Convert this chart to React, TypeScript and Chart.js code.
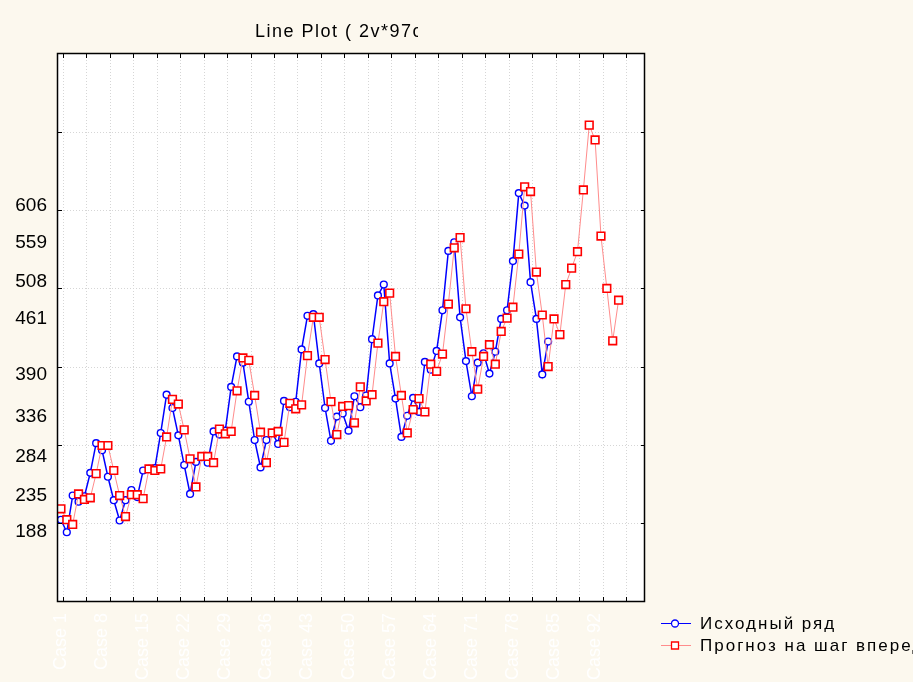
import { useEffect, useRef } from "react";
import { Chart, registerables } from "chart.js";

Chart.register(...registerables);

const TITLE = "Line Plot ( 2v*97c";
const SERIES_NAMES = ["Исходный ряд", "Прогноз на шаг вперед"];

// Исходный ряд (cases 1..84)
const ORIGINAL = [
  204, 188, 235, 227, 234, 264, 302, 293, 259, 229, 203, 229,
  242, 233, 267, 269, 270, 315, 364, 347, 312, 274, 237, 278,
  284, 277, 317, 313, 318, 374, 413, 405, 355, 306, 271, 306,
  315, 301, 356, 348, 355, 422, 465, 467, 404, 347, 305, 336,
  340, 318, 362, 348, 363, 435, 491, 505, 404, 359, 310, 337,
  360, 342, 406, 396, 420, 472, 548, 559, 463, 407, 362, 405,
  417, 391, 419, 461, 472, 535, 622, 606, 508, 461, 390, 432,
];

// Прогноз на шаг вперед (cases 1..96)
const FORECAST = [
  218, 204, 198, 237, 230, 232, 263, 299, 299, 267, 235, 208,
  236, 236, 231, 269, 267, 269, 310, 358, 352, 319, 282, 246,
  285, 285, 277, 320, 314, 317, 369, 411, 408, 363, 316, 277,
  315, 317, 303, 353, 346, 351, 414, 463, 463, 409, 355, 313,
  349, 350, 328, 374, 356, 364, 430, 483, 494, 413, 363, 315,
  345, 359, 342, 403, 394, 416, 480, 552, 565, 474, 419, 371,
  413, 428, 403, 445, 462, 476, 544, 630, 624, 521, 466, 400,
  461, 441, 505, 526, 547, 626, 709, 690, 567, 500, 433, 485,
];

const Y_TICK_LABELS = [188, 235, 284, 336, 390, 461, 508, 559, 606];
const Y_GRID = [100, 200, 300, 400, 500, 600, 700];
const X_LABEL_CASES = [1, 8, 15, 22, 29, 36, 43, 50, 57, 64, 71, 78, 85, 92];
const X_GRID = [
  1.3, 5.3, 9.3, 13.3, 17.3, 21.3, 25.3, 29.3, 33.3, 37.3, 41.3, 45.3, 49.3,
  53.3, 57.3, 61.3, 65.3, 69.3, 73.3, 77.3, 81.3, 85.3, 89.3, 93.3, 97.3,
];

const BG = "#FCF8EE";
const BLUE = "#0000FF";
const RED = "#FF0000";
const RED_LINE = "#FF8C8C";
const FONT = '"Liberation Sans", Arial, sans-serif';

const decorPlugin = {
  id: "decor",
  beforeDraw(chart: any) {
    const { ctx, width, height } = chart;
    const { left, right, top, bottom } = chart.chartArea;
    ctx.save();
    ctx.fillStyle = BG;
    ctx.fillRect(0, 0, width, height);
    ctx.fillStyle = "#FFFFFF";
    ctx.fillRect(left, top, right - left, bottom - top);
    // title (clipped like the original)
    ctx.beginPath();
    ctx.rect(0, 0, 418, top);
    ctx.clip();
    ctx.font = `18px ${FONT}`;
    (ctx as any).letterSpacing = "1.5px";
    ctx.fillStyle = "#000";
    ctx.textBaseline = "alphabetic";
    ctx.textAlign = "left";
    ctx.fillText(TITLE, 255, 37);
    ctx.restore();
  },
  beforeDatasetsDraw(chart: any) {
    const { ctx } = chart;
    const { left, right, top, bottom } = chart.chartArea;
    const xs = chart.scales.x;
    const ys = chart.scales.y;
    ctx.save();
    ctx.strokeStyle = "#D6D6D6";
    ctx.lineWidth = 1;
    ctx.setLineDash([1, 2]);
    for (const v of X_GRID) {
      const px = Math.round(xs.getPixelForValue(v)) + 0.5;
      ctx.beginPath();
      ctx.moveTo(px, top);
      ctx.lineTo(px, bottom);
      ctx.stroke();
    }
    for (const v of Y_GRID) {
      const py = Math.round(ys.getPixelForValue(v)) + 0.5;
      ctx.beginPath();
      ctx.moveTo(left, py);
      ctx.lineTo(right, py);
      ctx.stroke();
    }
    ctx.restore();
  },
  afterDatasetsDraw(chart: any) {
    const { ctx } = chart;
    const { left, right, top, bottom } = chart.chartArea;
    const xs = chart.scales.x;
    const ys = chart.scales.y;
    ctx.save();
    ctx.strokeStyle = "#000";
    ctx.lineWidth = 1;
    // tick marks (inward)
    for (const v of X_GRID) {
      const px = Math.round(xs.getPixelForValue(v)) + 0.5;
      ctx.beginPath();
      ctx.moveTo(px, top);
      ctx.lineTo(px, top + 4);
      ctx.moveTo(px, bottom);
      ctx.lineTo(px, bottom - 4);
      ctx.stroke();
    }
    for (const v of Y_GRID) {
      const py = Math.round(ys.getPixelForValue(v)) + 0.5;
      ctx.beginPath();
      ctx.moveTo(left, py);
      ctx.lineTo(left + 4, py);
      ctx.moveTo(right, py);
      ctx.lineTo(right - 4, py);
      ctx.stroke();
    }
    // frame
    ctx.lineWidth = 1.5;
    ctx.strokeRect(left - 0.5, top - 0.5, right - left, bottom - top + 1);
    ctx.restore();

    // legend
    ctx.save();
    const items = [
      { name: SERIES_NAMES[0], color: BLUE, line: BLUE, style: "circle", y: 623.5 },
      { name: SERIES_NAMES[1], color: RED, line: RED_LINE, style: "rect", y: 645.5 },
    ];
    for (const it of items) {
      ctx.strokeStyle = it.line;
      ctx.lineWidth = 1;
      ctx.beginPath();
      ctx.moveTo(661, it.y);
      ctx.lineTo(691, it.y);
      ctx.stroke();
      ctx.fillStyle = "#FFFFFF";
      ctx.strokeStyle = it.color;
      ctx.lineWidth = 1.3;
      ctx.beginPath();
      if (it.style === "circle") {
        ctx.arc(675, it.y, 3.5, 0, Math.PI * 2);
      } else {
        ctx.rect(671.5, it.y - 3.5, 7, 7);
      }
      ctx.fill();
      ctx.stroke();
      ctx.fillStyle = "#000";
      ctx.font = `17px ${FONT}`;
      (ctx as any).letterSpacing = "2px";
      ctx.textBaseline = "middle";
      ctx.textAlign = "left";
      ctx.fillText(it.name, 700, it.y + 1);
    }
    ctx.restore();
  },
};

export default function App() {
  const ref = useRef<HTMLCanvasElement | null>(null);

  useEffect(() => {
    if (!ref.current) return;
    const chart = new Chart(ref.current, {
      type: "line",
      data: {
        datasets: [
          {
            label: SERIES_NAMES[1],
            data: FORECAST.map((v, i) => ({ x: i + 1, y: v })),
            borderColor: RED_LINE,
            borderWidth: 1,
            pointStyle: "rect",
            pointRadius: 5.4,
            pointBorderColor: RED,
            pointBackgroundColor: "#FFFFFF",
            pointBorderWidth: 1.6,
            tension: 0,
            order: 0,
          },
          {
            label: SERIES_NAMES[0],
            data: ORIGINAL.map((v, i) => ({ x: i + 1, y: v })),
            borderColor: BLUE,
            borderWidth: 1.5,
            pointStyle: "circle",
            pointRadius: 3.4,
            pointBorderColor: BLUE,
            pointBackgroundColor: "#FFFFFF",
            pointBorderWidth: 1.4,
            tension: 0,
            order: 1,
          },
        ],
      },
      options: {
        animation: false,
        responsive: false,
        devicePixelRatio: 1,
        layout: { padding: { top: 54, right: 268, left: 0, bottom: 0 } },
        plugins: {
          legend: { display: false },
          title: { display: false },
          tooltip: { enabled: false },
        },
        scales: {
          x: {
            type: "linear",
            position: "bottom",
            min: 0.5,
            max: 100.5,
            afterBuildTicks: (s: any) => {
              s.ticks = X_LABEL_CASES.map((v) => ({ value: v }));
            },
            afterFit: (s: any) => {
              s.height = 81;
            },
            ticks: {
              autoSkip: false,
              maxRotation: 90,
              minRotation: 90,
              padding: 12,
              color: "#FFFFFF",
              font: { family: FONT, size: 18 },
              callback: (v: any) => "Case " + v,
            },
            grid: { display: false, drawTicks: false },
            border: { display: false },
          },
          y: {
            type: "linear",
            position: "left",
            min: 100,
            max: 800,
            afterBuildTicks: (s: any) => {
              s.ticks = Y_TICK_LABELS.map((v) => ({ value: v }));
            },
            afterFit: (s: any) => {
              s.width = 58;
            },
            ticks: {
              padding: 11,
              color: "#000000",
              font: { family: FONT, size: 19 },
              callback: (v: any) => String(v),
            },
            grid: { display: false, drawTicks: false },
            border: { display: false },
          },
        },
      },
      plugins: [decorPlugin],
    } as any);
    return () => chart.destroy();
  }, []);

  return (
    <div style={{ position: "fixed", left: 0, top: 0, width: 913, height: 682 }}>
      <canvas ref={ref} width={913} height={682} style={{ width: 913, height: 682, display: "block" }} />
    </div>
  );
}
